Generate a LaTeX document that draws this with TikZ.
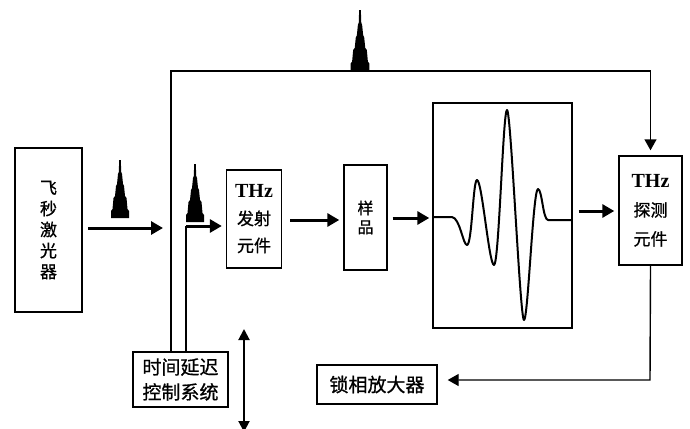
\documentclass[tikz,border=0pt]{standalone}
\usepackage{fontspec}
\setmainfont{Liberation Serif}
\newfontfamily\cjk{Noto Sans CJK SC}[FakeBold=0.8]
\usetikzlibrary{arrows.meta}
\newcommand\thzlabel{{\rmfamily\bfseries\fontsize{20}{20}\selectfont THz}}
\begin{document}
\begin{tikzpicture}[x=1pt,y=-1pt,
  box/.style={draw, line width=1.4pt, inner sep=0pt, align=center},
  arr/.style={line width=3pt, -{Triangle[length=12pt,width=13pt]}},
  thinarr/.style={line width=1.4pt, -{Triangle[length=11pt,width=12pt]}},
  ln/.style={line width=1.4pt},
  pulse/.pic={\fill[black] (-9,0) -- (-9,-7) -- (-7.5,-9) -- (-6.5,-20) -- (-5,-22) -- (-4,-32) -- (-3,-34) -- (-2,-44) -- (-1.2,-46) -- (-0.8,-58) -- (0.8,-58) -- (1.2,-46) -- (2,-44) -- (3,-34) -- (4,-32) -- (5,-22) -- (6.5,-20) -- (7.5,-9) -- (9,-7) -- (9,0) -- cycle;}
]
\useasboundingbox (0,0) rectangle (690,428);

% boxes
\node[box, minimum width=67pt, minimum height=164pt, font=\cjk\fontsize{17}{21}\selectfont] (laser) at (48.5,230)
  {飞\\秒\\激\\光\\器};
\node[box, minimum width=55pt, minimum height=98pt, font=\cjk\fontsize{17}{27}\selectfont] (emit) at (254,219)
  {\thzlabel\\发射\\元件};
\node[box, minimum width=43pt, minimum height=105pt, font=\cjk\fontsize{16}{19}\selectfont] (sample) at (365.5,217.5)
  {样\\品};
\node[box, minimum width=139pt, minimum height=225pt] (wave) at (502.5,215.5) {};
\node[box, minimum width=63pt, minimum height=109pt, font=\cjk\fontsize{17}{29}\selectfont] (det) at (650.5,210.5)
  {\thzlabel\\探测\\元件};
\node[box, minimum width=120pt, minimum height=39pt, font=\cjk\fontsize{19}{24}\selectfont] (lockin) at (377,384.5)
  {锁相放大器};
\node[box, minimum width=95pt, minimum height=55pt, font=\cjk\fontsize{19}{25}\selectfont] (delay) at (180.5,379.5)
  {时间延迟\\控制系统};

% waveform
\draw[line width=2pt, line join=round]
  (wave.west |- 0,217) -- (452,217)
  .. controls (460,218) and (463,245) .. (467,245)
  .. controls (472,245) and (473,180) .. (477,180)
  .. controls (482,180) and (489,265) .. (494,265)
  .. controls (499,265) and (503,110) .. (507,110)
  .. controls (511,110) and (520,320) .. (524,320)
  .. controls (528,320) and (533,189) .. (538,189)
  .. controls (542,189) and (543,220) .. (548,220)
  -- (wave.east |- 0,220);

% connectors
\coordinate (a1s) at (88,228);
\coordinate (a1e) at (163,228);
\draw[arr] (a1s) -- (a1e);

\coordinate (topL) at (171,71);
\draw[thinarr, shorten >=5pt] (delay.north -| topL) -- (topL) -- (topL -| det.north) -- (det.north);

\coordinate (inL) at (186,226);
\draw[ln] (delay.north -| inL) -- (inL);
\draw[arr, shorten >=4pt] (inL) -- (emit.west |- inL);

\draw[arr, shorten <=8pt, shorten >=4pt] (emit.east |- 0,220) -- (sample.west |- 0,220);
\draw[arr, shorten <=5pt, shorten >=3pt] (sample.east |- 0,218) -- (wave.west |- 0,218);
\draw[arr, shorten <=6pt, shorten >=4pt] (wave.east |- 0,211) -- (det.west |- 0,211);

\coordinate (retC) at (650,380);
\draw[thinarr, shorten >=10pt] (det.south) -- (retC) -- (lockin.east |- retC);

\coordinate (dbT) at (244,329);
\coordinate (dbB) at (244,432);
\draw[line width=2pt, {Triangle[length=11pt,width=11pt]}-{Triangle[length=11pt,width=11pt]}] (dbT) -- (dbB);

% pulses
\pic at (120,218) {pulse};
\pic at (195,222) {pulse};
\pic[scale=1.05] at (360,71) {pulse};
\end{tikzpicture}
\end{document}
